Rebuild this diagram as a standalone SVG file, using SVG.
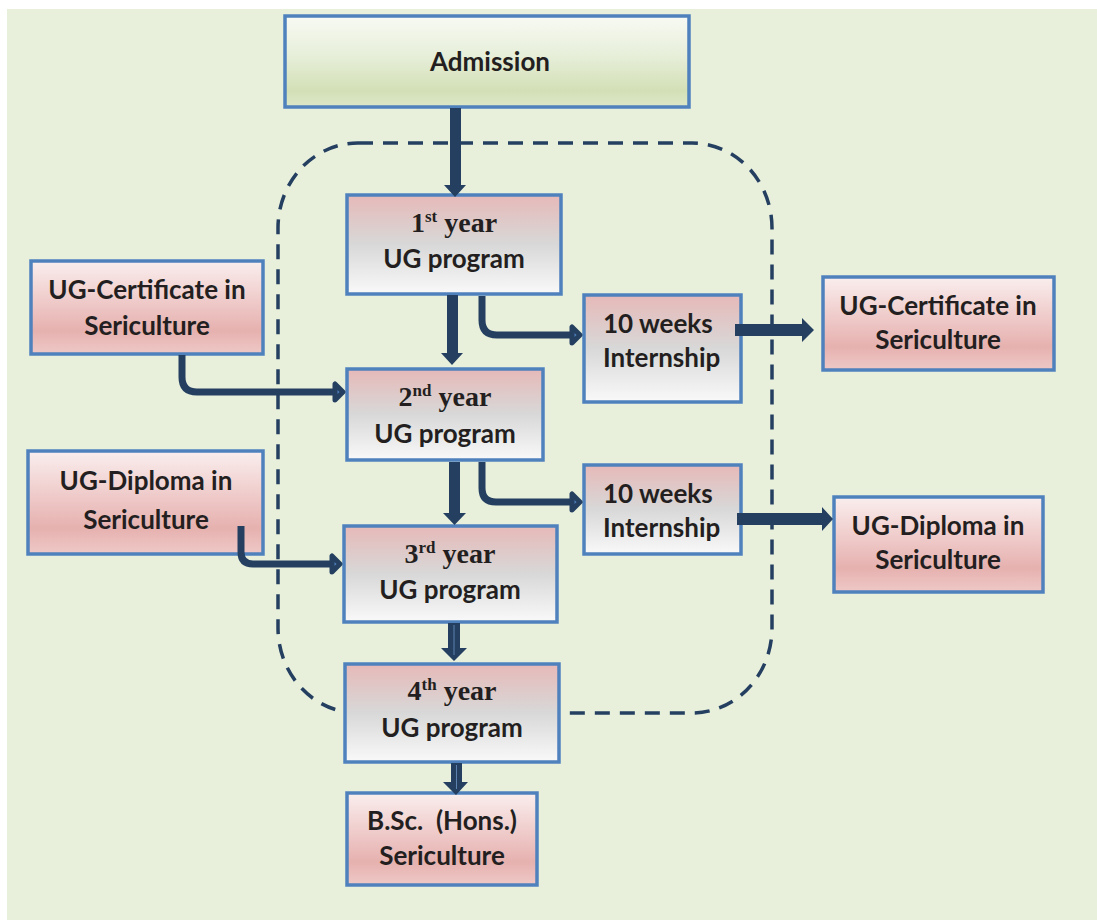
<svg xmlns="http://www.w3.org/2000/svg" width="1097" height="920" viewBox="0 0 1097 920">
<defs>
<linearGradient id="gGreen" x1="0" y1="0" x2="0" y2="1">
<stop offset="0" stop-color="#f8faf4"/>
<stop offset="0.45" stop-color="#e6eed8"/>
<stop offset="0.82" stop-color="#d3e0b6"/>
<stop offset="1" stop-color="#dce7c8"/>
</linearGradient>
<linearGradient id="gYear" x1="0" y1="0" x2="0" y2="1">
<stop offset="0" stop-color="#e6b9b8"/>
<stop offset="0.5" stop-color="#d8d8d8"/>
<stop offset="1" stop-color="#f9f9f9"/>
</linearGradient>
<linearGradient id="gPink" x1="0" y1="0" x2="0" y2="1">
<stop offset="0" stop-color="#faeeee"/>
<stop offset="0.75" stop-color="#e6b1af"/>
<stop offset="1" stop-color="#eec9c7"/>
</linearGradient>
<style>
.box{stroke:#4f81bd;stroke-width:3.5}
.yr{fill:url(#gYear)}
.pk{fill:url(#gPink)}
.t{font-family:Lato,"Liberation Sans",sans-serif;font-weight:bold;font-size:26px;fill:#231f20}
.c{text-anchor:middle}
.s{font-family:"Liberation Serif","Times New Roman",serif;font-weight:bold;font-size:28px;fill:#231f20;text-anchor:middle}
.sup{font-size:17px}
.ln{fill:none;stroke:#243f60;stroke-width:7}
.hd{fill:#4f81bd;stroke:#243f60;stroke-width:5;stroke-linejoin:round}
.blk{fill:#243f60}
.inner{stroke:#5d82b0;stroke-width:1;fill:none}
.dash{fill:none;stroke:#243f60;stroke-width:3.5;stroke-dasharray:15 10}
</style>
</defs>
<rect x="7" y="9" width="1090" height="911" fill="#e8f0dc"/>
<rect class="dash" x="278" y="143" width="494" height="570" rx="80" ry="85"/>

<g id="admission">
<rect class="box" x="285" y="16" width="404" height="91" fill="url(#gGreen)"/>
<text class="t c" x="490" y="71">Admission</text>
</g>
<g id="year1">
<rect class="box yr" x="347" y="195" width="214" height="99"/>
<text class="s" x="454" y="232">1<tspan class="sup" dy="-10">st</tspan><tspan dy="10"> year</tspan></text>
<text class="t c" x="454" y="268">UG program</text>
</g>
<g id="year2">
<rect class="box yr" x="347" y="369" width="196" height="91"/>
<text class="s" x="445" y="406">2<tspan class="sup" dy="-10">nd</tspan><tspan dy="10"> year</tspan></text>
<text class="t c" x="445" y="443">UG program</text>
</g>
<g id="year3">
<rect class="box yr" x="344" y="526" width="213" height="96"/>
<text class="s" x="450" y="563">3<tspan class="sup" dy="-10">rd</tspan><tspan dy="10"> year</tspan></text>
<text class="t c" x="450" y="599">UG program</text>
</g>
<g id="year4">
<rect class="box yr" x="345" y="664" width="214" height="98"/>
<text class="s" x="452" y="700">4<tspan class="sup" dy="-10">th</tspan><tspan dy="10"> year</tspan></text>
<text class="t c" x="452" y="737">UG program</text>
</g>
<g id="bsc">
<rect class="box pk" x="347" y="793" width="190" height="92"/>
<text class="t c" x="442" y="830" xml:space="preserve">B.Sc.  (Hons.)</text>
<text class="t c" x="442" y="865">Sericulture</text>
</g>
<g id="certLeft">
<rect class="box pk" x="31" y="261" width="232" height="93"/>
<text class="t c" x="147" y="299">UG-Certificate in</text>
<text class="t c" x="147" y="335">Sericulture</text>
</g>
<g id="dipLeft">
<rect class="box pk" x="28" y="451" width="235" height="103"/>
<text class="t c" x="146" y="490">UG-Diploma in</text>
<text class="t c" x="146" y="529">Sericulture</text>
</g>
<g id="intern1">
<rect class="box yr" x="584" y="295" width="157" height="107"/>
<text class="t" x="603" y="333">10 weeks</text>
<text class="t" x="603" y="367">Internship</text>
</g>
<g id="intern2">
<rect class="box yr" x="584" y="465" width="157" height="89"/>
<text class="t" x="603" y="503">10 weeks</text>
<text class="t" x="603" y="537">Internship</text>
</g>
<g id="certRight">
<rect class="box pk" x="823" y="277" width="231" height="93"/>
<text class="t c" x="938" y="315">UG-Certificate in</text>
<text class="t c" x="938" y="349">Sericulture</text>
</g>
<g id="dipRight">
<rect class="box pk" x="834" y="497" width="209" height="95"/>
<text class="t c" x="938" y="535">UG-Diploma in</text>
<text class="t c" x="938" y="569">Sericulture</text>
</g>

<g id="connectors">
<polygon class="blk" points="450,108 461,108 461,185 466,185 455,197 444,185 450,185"/>
<polygon class="blk" points="447,295 458,295 458,353 463,353 452,365 441,353 447,353"/>
<polygon class="blk" points="449,462 460,462 460,513 466,513 454.5,525 443,513 449,513"/>
<polygon class="blk" points="448,623 460,623 460,648 467,648 454,661 441,648 448,648"/>
<line class="inner" x1="454" y1="625" x2="454" y2="655"/>
<polygon class="blk" points="451,763 462,763 462,782 468,782 456,795 443,782 451,782"/>
<line class="inner" x1="456.5" y1="765" x2="456.5" y2="789"/>
<polygon class="blk" points="735,324 802,324 802,318 814,330 802,342 802,336 735,336"/>
<polygon class="blk" points="737,513 822,513 822,507 833,519 822,531 822,525 737,525"/>
<path class="ln" d="M482 296 V320 Q482 335 497 335 H573"/>
<polygon class="hd" points="580,335 572,327 572,343"/>
<path class="ln" d="M482 462 V488 Q482 502 496 502 H573"/>
<polygon class="hd" points="580,502 572,494 572,510"/>
<path class="ln" d="M182 355 V377 Q182 392 197 392 H335"/>
<polygon class="hd" points="343,392 335,384 335,400"/>
<path class="ln" d="M241 526 V552 Q241 564 253 564 H332"/>
<polygon class="hd" points="340,564 332,556 332,572"/>
</g>
</svg>
